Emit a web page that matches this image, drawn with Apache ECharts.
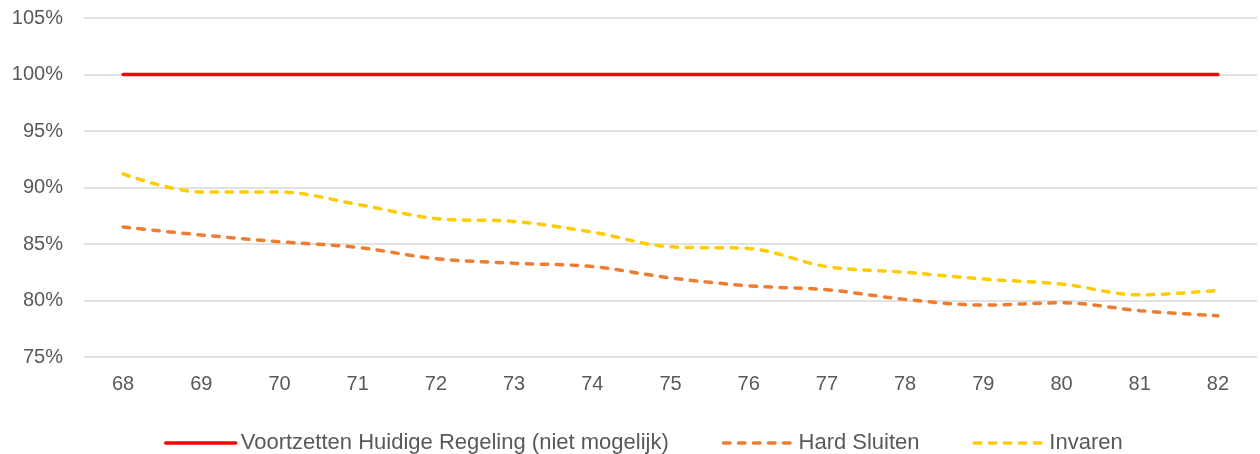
<!DOCTYPE html>
<html>
<head>
<meta charset="utf-8">
<script src="https://cdn.jsdelivr.net/npm/echarts@6/dist/echarts.min.js"></script>
<style>
  html, body { margin: 0; padding: 0; background: #fff; }
  #chart { width: 1260px; height: 454px; }
</style>
</head>
<body>
<div id="chart"></div>
<script>
let ages = ['68', '69', '70', '71', '72', '73', '74', '75', '76', '77', '78', '79', '80', '81', '82']
let voortzetten = [100, 100, 100, 100, 100, 100, 100, 100, 100, 100, 100, 100, 100, 100, 100]
let hardSluiten = [86.5, 85.8, 85.2, 84.7, 83.7, 83.3, 83.0, 82.0, 81.3, 80.95, 80.1, 79.6, 79.8, 79.1, 78.65]
let invaren = [91.2, 89.6, 89.6, 88.5, 87.25, 87.0, 86.05, 84.75, 84.6, 83.0, 82.5, 81.9, 81.45, 80.5, 80.9]
let seriesNames = ['Voortzetten Huidige Regeling (niet mogelijk)', 'Hard Sluiten', 'Invaren']

const textColor = '#595959'
const fontFamily = '"Liberation Sans", Arial, sans-serif'
// dashed style like the excel "short dash"
const dash = [6.5, 8.5]

let chartsInstance = echarts.init(document.getElementById('chart'))
let option = {
  animation: false,
  grid: {
    left: 84,
    right: 3,
    top: 18,
    bottom: 97
  },
  legend: {
    left: 159,
    top: 427,
    itemWidth: 70,
    itemHeight: 14,
    itemGap: 53,
    itemStyle: { opacity: 0 },
    lineStyle: { width: 3.5 },
    textStyle: {
      color: textColor,
      fontSize: 22,
      fontFamily: fontFamily
    },
    data: seriesNames
  },
  xAxis: {
    type: 'category',
    data: ages,
    axisLine: { show: false },
    axisTick: { show: false },
    axisLabel: {
      color: textColor,
      fontSize: 20,
      fontFamily: fontFamily,
      margin: 17
    }
  },
  yAxis: {
    type: 'value',
    min: 75,
    max: 105,
    interval: 5,
    axisLine: { show: false },
    axisTick: { show: false },
    splitLine: {
      lineStyle: { color: '#d9d9d9', width: 1.5 }
    },
    axisLabel: {
      color: textColor,
      fontSize: 20,
      fontFamily: fontFamily,
      margin: 21,
      formatter: v => v + '%'
    }
  },
  series: [
    {
      name: seriesNames[0],
      type: 'line',
      data: voortzetten,
      symbol: 'none',
      lineStyle: { color: '#ff0000', width: 3.5, cap: 'round' },
      itemStyle: { color: '#ff0000' }
    },
    {
      name: seriesNames[1],
      type: 'line',
      data: hardSluiten,
      symbol: 'none',
      smooth: 0.35,
      lineStyle: { color: '#ed7d31', width: 3.5, type: dash, cap: 'round' },
      itemStyle: { color: '#ed7d31' }
    },
    {
      name: seriesNames[2],
      type: 'line',
      data: invaren,
      symbol: 'none',
      smooth: 0.35,
      lineStyle: { color: '#ffcc00', width: 3.5, type: dash, cap: 'round' },
      itemStyle: { color: '#ffcc00' }
    }
  ]
}
chartsInstance.setOption(option)
</script>
</body>
</html>
